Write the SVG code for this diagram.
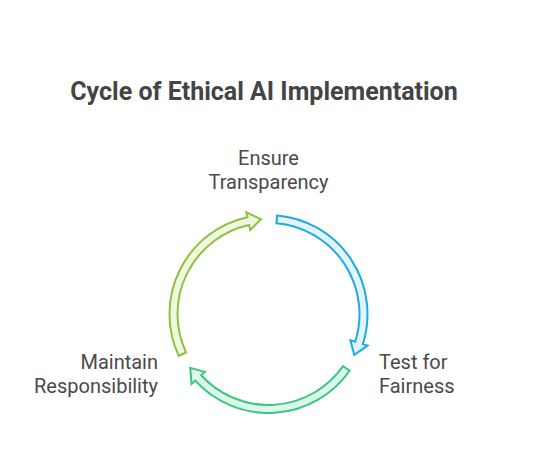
<svg xmlns="http://www.w3.org/2000/svg" width="533" height="475" viewBox="0 0 533 475">
  <style>
    .title { font-family: Roboto, "Liberation Sans", sans-serif; font-weight: bold; font-size: 25px; fill: #444444; }
    .label { font-family: Roboto, "Liberation Sans", sans-serif; font-size: 20px; fill: #4a4a4a; }
    .arrow { stroke-width: 2; stroke-linejoin: miter; }
  </style>
  <defs>
    <path id="arc-arrow" d="M277.13,215.38 A99,99 0 0 1 362.81,344.10 L367.58,345.62 L354.25,354.90 L350.43,340.15 L355.19,341.67 A91,91 0 0 0 276.43,223.35 Z"/>
  </defs>
  <rect width="533" height="475" fill="#ffffff"/>
  <text class="title" x="264" y="100" text-anchor="middle">Cycle of Ethical AI Implementation</text>
  <g id="connectors">
    <use href="#arc-arrow" class="arrow" fill="#e1f5fd" stroke="#22a9df"/>
    <use href="#arc-arrow" class="arrow" fill="#dcf8ea" stroke="#3cc57f" transform="rotate(120 268.5 314)"/>
    <use href="#arc-arrow" class="arrow" fill="#f0f8df" stroke="#8fc03f" transform="rotate(240 268.5 314)"/>
  </g>
  <g id="node-transparency">
    <text class="label" x="268.5" y="165" text-anchor="middle">Ensure</text>
    <text class="label" x="268.5" y="189" text-anchor="middle">Transparency</text>
  </g>
  <g id="node-fairness">
    <text class="label" x="379" y="369" text-anchor="start">Test for</text>
    <text class="label" x="379" y="393" text-anchor="start">Fairness</text>
  </g>
  <g id="node-responsibility">
    <text class="label" x="158" y="369" text-anchor="end">Maintain</text>
    <text class="label" x="158" y="393" text-anchor="end">Responsibility</text>
  </g>
</svg>
